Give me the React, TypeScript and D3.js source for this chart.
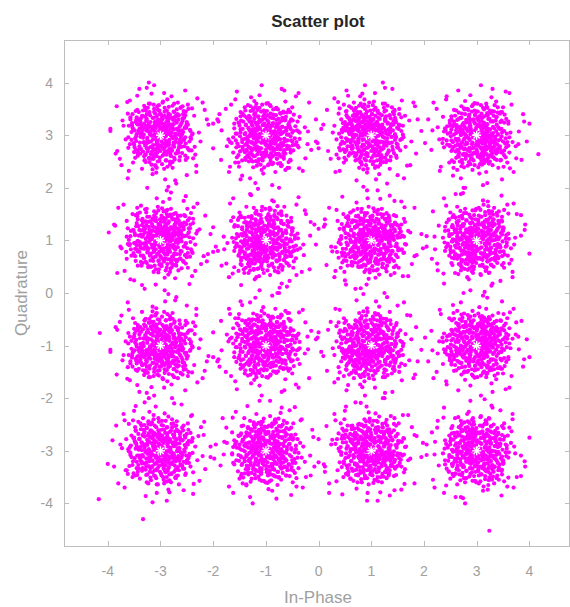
import React from "react";
import * as d3 from "d3";

// 16-QAM constellation points (ideal symbols)
const levels = [-3, -1, 1, 3];
const xTicks = [-4, -3, -2, -1, 0, 1, 2, 3, 4];
const yTicks = [-4, -3, -2, -1, 0, 1, 2, 3, 4];

// estimated noise offsets (hundredths of a unit), read as a typical cloud shape
const noiseA = [
  12,-8, -25,14, 33,5, -4,-31, 18,22, -41,-9, 7,40, 27,-28, -15,-19, 46,11,
  -33,29, 2,-2, -9,17, 21,-44, -52,-20, 38,35, -18,50, 9,-13, -28,-36, 55,-6,
  14,8, -6,26, 30,-15, -39,3, 24,31, -12,-47, 61,24, -47,39, 4,-23, 19,-3,
  -21,-5, 35,-37, -2,12, -31,-24, 10,57, 44,-21, -58,7, 16,-11, -8,-9, 28,18,
  -36,48, 50,32, -14,33, 6,-55, -24,20, 39,-4, -45,-33, 13,27, -1,-40, 25,9,
  3,19, -17,-2, 41,-29, -29,12, 15,-33, -7,6, 22,44, -49,-14, 34,-10, -11,-25,
  70,-18, -64,-37, 8,71, -26,-60, 52,52, -3,-15, 17,1, -19,38, 29,-52, -40,22,
  0,30, 11,-20, -34,-8, 48,6, -16,14, 23,-7, -5,-64, 37,26, -55,29, 6,15,
  -10,2, 26,-40, -44,-46, 13,45, 57,-30, -23,-14, 31,13, -13,60, 1,-9, -37,41,
  43,39, -8,-37, 19,-25, -60,-1, 9,34, 32,-1, -27,-29, 66,8, -2,22, 20,-60,
  -48,16, 5,-6, 36,-19, -20,27, 15,65, -38,-19, 24,-13, -6,-21, 47,-46, -30,6,
  2,49, -15,-41, 40,21, -53,-50, 11,-1, 28,37, -22,3, 53,-14, -42,-27, 7,-35,
  82,30, -76,12, 17,-79, -9,84, 63,-63, -68,58, 26,-9, -12,11, 42,-8, -33,-11,
  3,-17, -18,25, 22,-22, -25,-45, 45,-34, -4,39, 14,19, -47,4, 30,48, -14,-8,
  8,-27, -35,15, 58,17, -8,-52, 33,-47, -57,-8, 18,36, -26,43, 0,-4, 38,-26,
  -43,-40, 12,-50, 49,-9, -19,-12, 26,25, -2,-28, 62,-41, -31,34, 10,-41, 21,51,
  -65,22, 4,7, 29,-35, -11,48, 51,15, -39,-53, 16,-16, -3,55, 35,2, -21,-20,
  95,-12, -88,-30, 12,-95, -30,92, 77,45, -80,-62, 44,-75, -50,76, 60,68, -7,-80,
  20,-2, -28,-3, 6,23, -16,-31, 40,-12, -51,24, 27,-18, -9,31, 13,-58, -35,-38,
  31,40, -6,-13, 47,28, -45,9, 2,-47, 24,14, -23,51, 54,-23, -12,20, 9,-19,
];

const noiseB = [
  -7,11, 22,-33, -38,-21, 15,29, 41,-2, -12,-44, 5,16, -29,37, 36,20, -19,-6,
  9,-18, -46,2, 27,46, -3,-29, 50,-25, -22,13, 13,-6, -57,-34, 31,-49, -1,43,
  44,9, -15,-16, 18,-39, -33,31, 7,64, 25,-11, -41,-44, 59,29, -8,4, 16,-54,
  -26,-27, 34,33, -4,-1, -50,18, 21,-17, 11,37, -36,-5, 47,-38, -17,56, 28,0,
  3,-35, -54,-19, 39,14, -10,27, 23,-56, -30,48, 56,-10, -20,-38, 8,24, 42,-32,
  -43,34, 17,9, -2,-19, 30,-27, -24,-13, 62,44, -61,4, 13,-68, -6,33, 37,-8,
  -14,1, 26,22, -31,-56, 48,-45, -1,-10, 19,51, -47,-25, 6,-4, 33,-62, -23,25,
  73,-5, -72,-28, -15,74, 21,-74, 66,37, -58,-66, 5,3, 52,-58, -35,64, -9,-23,
  14,-9, -39,14, 29,35, -5,-48, 45,21, -27,-9, 10,48, -48,43, 36,-16, -13,-33,
  1,20, -20,-17, 24,-29, -44,-48, 57,4, -9,39, 15,-24, -32,-1, 41,34, -3,-57,
  32,-40, -16,23, 4,-14, -52,-12, 20,40, -37,-32, 49,-19, -7,62, 12,-2, -25,5,
  27,15, -11,-25, 38,-52, -41,28, 0,-6, 53,27, -28,-47, 16,18, -60,-18, 8,-45,
  -85,35, 91,-20, 28,86, -26,-90, 70,-70, -74,57, 2,-30, -18,12, 35,-1, -45,-2,
  46,-14, -6,8, 22,29, -34,-37, 11,-33, -21,43, 60,-51, -13,-12, 24,6, -49,23,
  7,35, -31,-22, 43,-6, -2,-40, 18,56, -55,9, 30,-36, -16,31, 51,43, -24,-52,
  12,-15, -38,3, 35,24, -8,17, 26,-44, -46,-29, 4,-62, -19,-2, 40,-23, -5,50,
  100,25, -95,-8, -22,-100, 15,98, 84,-48, -62,82, 68,70, -83,-55, 47,-85, -40,-88,
  -10,-19, 20,1, -29,20, 34,-30, -3,27, 15,-36, -36,-14, 9,13, -22,-60, 55,12,
  25,-21, -14,38, 48,47, -53,-40, 1,-23, 37,9, -26,-31, 19,33, -9,59, 61,-3,
  -32,14, 6,-7, 31,-12, -17,45, 42,-55, -4,-3, 23,62, -42,-20, 14,-28, -28,51,
];

// isolated points
const outliersX = [-4.17, -3.33, 3.24, 4.17, -4.15, -2.2, 2.2, -0.05, 0.2];
const outliersY = [-3.92, -4.3, -4.52, 2.64, -0.76, -3.1, -3.7, 3.3, -3.8];

const W = 570;
const H = 607;
const left = 64, right = 570, top = 40, bottom = 546;

const sym: Array<(a: number, b: number) => [number, number]> = [
  (a, b) => [a, b],
  (a, b) => [-a, b],
  (a, b) => [a, -b],
  (a, b) => [-a, -b],
  (a, b) => [b, a],
  (a, b) => [-b, a],
  (a, b) => [b, -a],
  (a, b) => [-b, -a],
];

export default function App() {
  const x = d3.scaleLinear().domain([-4.83, 4.77]).range([left, right]);
  const y = d3.scaleLinear().domain([-4.81, 4.81]).range([bottom, top]);

  const centers: [number, number][] = [];
  levels.forEach((ci) => levels.forEach((cq) => centers.push([ci, cq])));

  const pts: [number, number][] = [];
  centers.forEach(([cx, cy], k) => {
    const sa = sym[k % 8];
    const sb = sym[(k * 5 + 3 + (k >= 8 ? 1 : 0)) % 8];
    for (let i = 0; i < noiseA.length; i += 2) {
      const [dx, dy] = sa(noiseA[i] / 100, noiseA[i + 1] / 100);
      pts.push([cx + dx, cy + dy]);
    }
    for (let i = 0; i < noiseB.length; i += 2) {
      const [dx, dy] = sb(noiseB[i] / 100, noiseB[i + 1] / 100);
      pts.push([cx + dx, cy + dy]);
    }
  });
  outliersX.forEach((v, i) => pts.push([v, outliersY[i]]));

  const axisColor = "#bdbdbd";
  const textColor = "#a0a0a0";
  const font = "'Liberation Sans', Arial, Helvetica, sans-serif";
  const tl = 5;
  const star = 4.5;

  return (
    <svg
      width={W}
      height={H}
      style={{ position: "absolute", left: 0, top: 0, background: "#fff" }}
      fontFamily={font}
    >
      <rect x={0} y={0} width={W} height={H} fill="#fff" />
      <defs>
        <clipPath id="plotclip">
          <rect x={left} y={top} width={right - left} height={bottom - top} />
        </clipPath>
      </defs>

      <g clipPath="url(#plotclip)">
        {pts.map((p, i) => (
          <circle key={i} cx={x(p[0])} cy={y(p[1])} r={2.1} fill="#ff00ff" />
        ))}
        {centers.map(([cx, cy], i) => {
          const px = x(cx), py = y(cy);
          const d = star * 0.72;
          return (
            <g key={"s" + i} stroke="#ffffff" strokeWidth={1.4}>
              <line x1={px - star} y1={py} x2={px + star} y2={py} />
              <line x1={px} y1={py - star} x2={px} y2={py + star} />
              <line x1={px - d} y1={py - d} x2={px + d} y2={py + d} />
              <line x1={px - d} y1={py + d} x2={px + d} y2={py - d} />
            </g>
          );
        })}
      </g>

      {/* axes box */}
      <g stroke={axisColor} strokeWidth={1} fill="none">
        <line x1={left} y1={bottom + 0.5} x2={right} y2={bottom + 0.5} />
        <line x1={left} y1={top + 0.5} x2={right} y2={top + 0.5} />
        <line x1={left + 0.5} y1={top} x2={left + 0.5} y2={bottom} />
        <line x1={right - 0.5} y1={top} x2={right - 0.5} y2={bottom} />
        {xTicks.map((t) => (
          <g key={"xt" + t}>
            <line x1={Math.round(x(t)) + 0.5} y1={bottom} x2={Math.round(x(t)) + 0.5} y2={bottom - tl} />
            <line x1={Math.round(x(t)) + 0.5} y1={top} x2={Math.round(x(t)) + 0.5} y2={top + tl} />
          </g>
        ))}
        {yTicks.map((t) => (
          <g key={"yt" + t}>
            <line x1={left} y1={Math.round(y(t)) + 0.5} x2={left + tl} y2={Math.round(y(t)) + 0.5} />
            <line x1={right} y1={Math.round(y(t)) + 0.5} x2={right - tl} y2={Math.round(y(t)) + 0.5} />
          </g>
        ))}
      </g>

      {/* tick labels */}
      <g fill={textColor} fontSize={14}>
        {xTicks.map((t) => (
          <text key={"xl" + t} x={x(t)} y={576} textAnchor="middle">
            {t}
          </text>
        ))}
        {yTicks.map((t) => (
          <text key={"yl" + t} x={53} y={y(t) + 5} textAnchor="end">
            {t}
          </text>
        ))}
      </g>

      {/* titles */}
      <text x={318} y={27} textAnchor="middle" fontSize={17} fontWeight="bold" fill="#262626">
        Scatter plot
      </text>
      <text x={318} y={603} textAnchor="middle" fontSize={17} fill={textColor}>
        In-Phase
      </text>
      <text
        transform={`translate(27, ${y(0)}) rotate(-90)`}
        textAnchor="middle"
        fontSize={17}
        fill={textColor}
      >
        Quadrature
      </text>
    </svg>
  );
}
